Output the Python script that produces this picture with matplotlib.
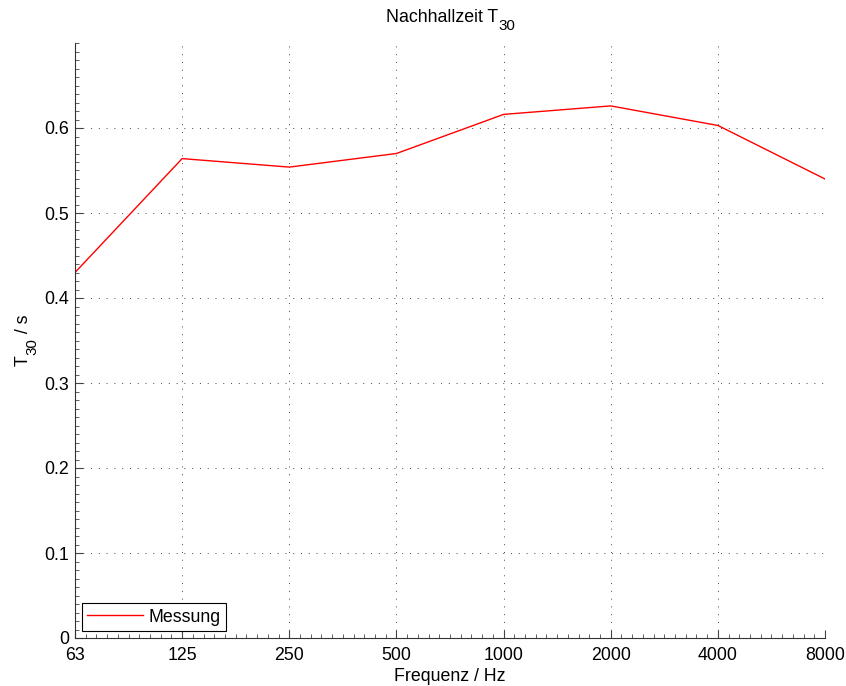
import matplotlib
matplotlib.use('Agg')
import matplotlib.pyplot as plt
import numpy as np
from matplotlib.ticker import MultipleLocator

plt.rcParams['font.family'] = ['Liberation Sans', 'DejaVu Sans']

# octave band centre frequencies and measured reverberation time
frequencies = ['63', '125', '250', '500', '1000', '2000', '4000', '8000']
t30 = [0.430, 0.564, 0.554, 0.570, 0.616, 0.626, 0.603, 0.540]

FS = 12.8


def sub_label(fig, renderer, cx, cy, pieces, rotation=0):
    """Draw text pieces (str, size, baseline shift in px) centred at cx, cy (pixels)."""
    widths = []
    for s, size, _ in pieces:
        t = fig.text(0, 0, s, fontsize=size)
        widths.append(t.get_window_extent(renderer).width)
        t.remove()
    pos = -sum(widths) / 2
    for (s, size, shift), w in zip(pieces, widths):
        if rotation == 0:
            px, py = cx + pos, cy - shift
        else:
            px, py = cx + shift, cy + pos
        fig.text(px / fig.bbox.width, py / fig.bbox.height, s, fontsize=size,
                 rotation=rotation, ha='left', va='baseline', rotation_mode='anchor')
        pos += w


fig = plt.figure(figsize=(8.46, 6.86), dpi=100)
ax = fig.add_axes([75 / 846, 48 / 686, 750 / 846, 595 / 686])

x = np.arange(len(frequencies))
ax.plot(x, t30, color='red', lw=1.0, label='Messung')

ax.set_xlim(0, len(frequencies) - 1)
ax.set_ylim(0, 0.7)
ax.set_xticks(x)
ax.set_xticklabels(frequencies)
ax.set_yticks(np.arange(0, 0.61, 0.1))
ax.set_yticklabels(['0', '0.1', '0.2', '0.3', '0.4', '0.5', '0.6'])
ax.xaxis.set_minor_locator(MultipleLocator(0.1))
ax.yaxis.set_minor_locator(MultipleLocator(0.01))

ax.tick_params(which='both', direction='in', labelsize=FS, top=False, right=False,
               color='#444444')
ax.tick_params(which='major', length=5.8, width=0.8)
ax.tick_params(which='minor', length=2.9, width=0.6)
ax.tick_params(axis='x', pad=6.5)
ax.tick_params(axis='y', pad=4.5)

for side in ['top', 'right']:
    ax.spines[side].set_visible(False)
for side in ['left', 'bottom']:
    ax.spines[side].set_color('#333333')
    ax.spines[side].set_linewidth(0.8)

ax.grid(True, which='major', ls=(0, (1, 7)), color='#444444', lw=0.7)

ax.set_xlabel('Frequenz / Hz', fontsize=FS, labelpad=3)

leg = ax.legend(loc='lower left', fontsize=FS, fancybox=False, framealpha=1,
                edgecolor='black', borderaxespad=0.4, handlelength=3.1,
                handletextpad=0.35, borderpad=0.3)
leg.get_frame().set_linewidth(0.8)

# title and y label with MATLAB-style subscripts
renderer = fig.canvas.get_renderer()
H = fig.bbox.height
sub_label(fig, renderer, 451, H - 22,
          [('Nachhallzeit T', FS, 0), ('30', FS * 0.85, 8)])
sub_label(fig, renderer, 28, H - 340,
          [('T', FS, 0), ('30', FS * 0.85, 8), (' / s', FS, 0)], rotation=90)

fig.savefig('out.png', dpi=100)
